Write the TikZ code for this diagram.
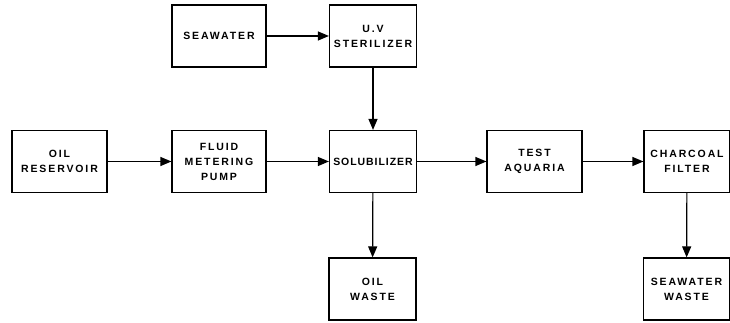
\documentclass[tikz,border=0pt]{standalone}
\usepackage{fontspec}
\setmainfont{Liberation Sans}[LetterSpace=18]
\usetikzlibrary{arrows.meta}
\begin{document}
\begin{tikzpicture}[x=1pt, y=1pt,
    box/.style={draw, line width=1.2pt, minimum width=94pt, minimum height=62pt,
      align=center, inner sep=1pt, font=\fontsize{10.5}{15}\selectfont\bfseries},
    flow/.style={line width=1.2pt, -{Triangle[length=11pt, width=9pt]}}]
  \useasboundingbox (0,0) rectangle (730,323);
  % top row
  \node[box] (seawater) at (219,287) {SEAWATER};
  \node[box, minimum width=87pt] (uv) at (373,287) {U.V\\STERILIZER};
  % middle row
  \node[box, minimum width=95pt] (reservoir) at (59.5,161.5) {OIL\\RESERVOIR};
  \node[box] (pump) at (219,161.5) {FLUID\\METERING\\PUMP};
  \node[box, minimum width=87pt] (solubilizer) at (373,161.5)
    {\addfontfeature{LetterSpace=9}SOLUBILIZER};
  \node[box, minimum width=95pt] (aquaria) at (534.5,161.5) {TEST\\AQUARIA};
  \node[box, minimum width=86pt] (charcoal) at (687,161.5) {CHARCOAL\\FILTER};
  % bottom row
  \node[box, minimum width=87pt] (oilwaste) at (372.5,34) {OIL\\WASTE};
  \node[box, minimum width=86pt] (swwaste) at (686.5,34) {SEAWATER\\WASTE};
  % connectors
  \draw[flow] (seawater) -- (uv);
  \draw[flow] (uv) -- (solubilizer);
  \draw[flow] (reservoir) -- (pump);
  \draw[flow] (pump) -- (solubilizer);
  \draw[flow] (solubilizer) -- (aquaria);
  \draw[flow] (aquaria) -- (charcoal);
  \draw[flow] (solubilizer) -- (oilwaste);
  \draw[flow] (charcoal) -- (swwaste);
\end{tikzpicture}
\end{document}
